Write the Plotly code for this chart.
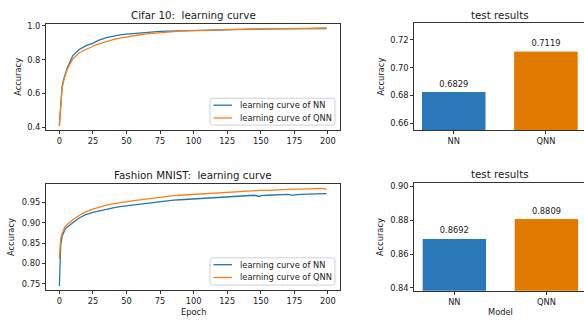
import plotly.graph_objects as go

W, H = 584, 324

epochs = [0, 1, 2, 3, 4, 5, 6, 7, 8, 9,
          10, 15, 20, 25, 30, 35, 40, 45, 50, 55, 60, 65, 70, 75, 80, 85, 90, 95,
          100, 105, 110, 115, 120, 125, 130, 135, 140, 145, 149,
          150, 155, 160, 165, 170, 174, 175, 180, 185, 190, 195, 199]

cifar_nn = [0.41, 0.57, 0.64, 0.68, 0.71, 0.735, 0.755, 0.77, 0.79, 0.805,
            0.825, 0.862, 0.884, 0.899, 0.918, 0.931, 0.941, 0.947, 0.952, 0.956,
            0.960, 0.963, 0.966, 0.968, 0.970, 0.971, 0.973, 0.974, 0.975, 0.976,
            0.977, 0.978, 0.978, 0.979, 0.980, 0.980, 0.981, 0.981, 0.982,
            0.982, 0.982, 0.983, 0.983, 0.983, 0.984, 0.984, 0.984, 0.984, 0.985, 0.985, 0.985]

cifar_qnn = [0.41, 0.56, 0.63, 0.67, 0.70, 0.725, 0.745, 0.76, 0.775, 0.79,
             0.805, 0.843, 0.864, 0.880, 0.895, 0.908, 0.919, 0.928, 0.936, 0.943,
             0.948, 0.953, 0.957, 0.961, 0.964, 0.967, 0.969, 0.971, 0.973, 0.975,
             0.976, 0.977, 0.978, 0.979, 0.980, 0.981, 0.981, 0.982, 0.982,
             0.983, 0.983, 0.984, 0.984, 0.985, 0.985, 0.986, 0.986, 0.986, 0.987, 0.987, 0.988]

fashion_nn = [0.745, 0.845, 0.866, 0.876, 0.882, 0.887, 0.890, 0.893, 0.896, 0.898,
              0.900, 0.912, 0.920, 0.925, 0.929, 0.933, 0.936, 0.939, 0.941, 0.944,
              0.946, 0.948, 0.950, 0.951, 0.953, 0.955, 0.956, 0.957, 0.958, 0.960,
              0.961, 0.962, 0.963, 0.964, 0.965, 0.966, 0.966, 0.967, 0.964,
              0.966, 0.967, 0.968, 0.968, 0.969, 0.967, 0.968, 0.969, 0.970, 0.970, 0.971, 0.971]

fashion_qnn = [0.812, 0.862, 0.873, 0.882, 0.889, 0.893, 0.896, 0.899, 0.902, 0.905,
               0.907, 0.918, 0.927, 0.933, 0.938, 0.943, 0.946, 0.949, 0.952, 0.954,
               0.956, 0.958, 0.961, 0.963, 0.964, 0.966, 0.967, 0.968, 0.970, 0.971,
               0.972, 0.973, 0.974, 0.975, 0.976, 0.977, 0.977, 0.978, 0.978,
               0.979, 0.979, 0.980, 0.980, 0.981, 0.981, 0.982, 0.982, 0.983, 0.983, 0.984, 0.982]

models = ["NN", "QNN"]
cifar_test = [0.6829, 0.7119]
fashion_test = [0.8692, 0.8809]

series_names = ["learning curve of NN", "learning curve of QNN"]

epoch_ticks = [0, 25, 50, 75, 100, 125, 150, 175, 200]
cifar_yticks = [0.4, 0.6, 0.8, 1.0]
fashion_yticks = [0.75, 0.80, 0.85, 0.90, 0.95]
cifar_bar_ticks = [0.66, 0.68, 0.70, 0.72]
fashion_bar_ticks = [0.84, 0.86, 0.88, 0.90]

BLUE = "#1f77b4"
ORANGE = "#ff7f0e"
BAR_BLUE = "#2a77ba"
BAR_ORANGE = "#e17a00"
FONT = "DejaVu Sans"
TXT = "#1a1a1a"
SPINE = "#333333"
TICK_SIZE = 8.3
TITLE_SIZE = 10.3
LINE_W = 1.3


def px_x(p):
    return p / W


def px_y(p):
    return 1 - p / H


fig = go.Figure()

# learning curves
for (xa, ya, nn, qnn) in [("x", "y", cifar_nn, cifar_qnn), ("x2", "y2", fashion_nn, fashion_qnn)]:
    fig.add_trace(go.Scatter(x=epochs, y=nn, mode="lines", name=series_names[0],
                             line=dict(color=BLUE, width=LINE_W), xaxis=xa, yaxis=ya,
                             showlegend=False))
    fig.add_trace(go.Scatter(x=epochs, y=qnn, mode="lines", name=series_names[1],
                             line=dict(color=ORANGE, width=LINE_W), xaxis=xa, yaxis=ya,
                             showlegend=False))

# bars
for (xa, ya, vals) in [("x3", "y3", cifar_test), ("x4", "y4", fashion_test)]:
    fig.add_trace(go.Bar(x=models, y=vals, width=0.7,
                         marker=dict(color=[BAR_BLUE, BAR_ORANGE], line=dict(color="white", width=1)),
                         text=[f"{v:.4f}" for v in vals], textposition="outside",
                         textfont=dict(size=TICK_SIZE, color=TXT, family=FONT), cliponaxis=False,
                         showlegend=False, xaxis=xa, yaxis=ya))

axis_common = dict(showline=True, linecolor=SPINE, linewidth=1, ticks="outside", ticklen=3,
                   tickcolor=SPINE, tickwidth=1, showgrid=False, zeroline=False,
                   tickfont=dict(size=TICK_SIZE, color=TXT, family=FONT))

left_dom = [px_x(46), px_x(340)]
right_dom = [px_x(414.3), 1.0]

fig.update_layout(
    width=W, height=H, margin=dict(l=0, r=0, t=0, b=0),
    paper_bgcolor="white", plot_bgcolor="white",
    font=dict(family=FONT, size=TICK_SIZE, color=TXT),
    showlegend=False,
    xaxis=dict(domain=left_dom, anchor="y", range=[-9.95, 208.95], tickvals=epoch_ticks,
               mirror=True, **axis_common),
    yaxis=dict(domain=[px_y(129), px_y(21)], anchor="x", range=[0.3845, 1.0136],
               tickvals=cifar_yticks, tickformat=".1f", mirror=True, **axis_common),
    xaxis2=dict(domain=left_dom, anchor="y2", range=[-9.95, 208.95], tickvals=epoch_ticks,
                mirror=True, **axis_common),
    yaxis2=dict(domain=[px_y(291.7), px_y(184)], anchor="x2", range=[0.7347, 0.9942],
                tickvals=fashion_yticks, tickformat=".2f", mirror=True, **axis_common),
    xaxis3=dict(domain=right_dom, anchor="y3", range=[-0.428, 1.413], type="category",
                mirror=True, **axis_common),
    yaxis3=dict(domain=[px_y(129), px_y(20.7)], anchor="x3", range=[0.6553, 0.7318],
                tickvals=cifar_bar_ticks, tickformat=".2f", **axis_common),
    xaxis4=dict(domain=right_dom, anchor="y4", range=[-0.435, 1.408], type="category",
                mirror=True, **axis_common),
    yaxis4=dict(domain=[px_y(292.3), px_y(183.3)], anchor="x4", range=[0.8383, 0.9016],
                tickvals=fashion_bar_ticks, tickformat=".2f", **axis_common),
)

ann = []
shapes = []


def add_text(text, x, y, size, angle=0, xanchor="center"):
    ann.append(dict(text=text, x=px_x(x), y=px_y(y), xref="paper", yref="paper",
                    xanchor=xanchor, yanchor="middle", showarrow=False, textangle=angle,
                    font=dict(size=size, color=TXT, family=FONT)))


def rounded_box(x0, y0, x1, y1, r):
    # pixel coordinates -> paper path
    def P(x, y):
        return f"{px_x(x):.5f},{px_y(y):.5f}"
    return (f"M {P(x0 + r, y0)} L {P(x1 - r, y0)} Q {P(x1, y0)} {P(x1, y0 + r)} "
            f"L {P(x1, y1 - r)} Q {P(x1, y1)} {P(x1 - r, y1)} "
            f"L {P(x0 + r, y1)} Q {P(x0, y1)} {P(x0, y1 - r)} "
            f"L {P(x0, y0 + r)} Q {P(x0, y0)} {P(x0 + r, y0)} Z")


def add_legend(top, bottom, rows):
    shapes.append(dict(type="path", xref="paper", yref="paper",
                       path=rounded_box(210, top, 335, bottom, 2.5),
                       line=dict(color="#d0d0d0", width=1), fillcolor="rgba(255,255,255,0.85)"))
    for (ry, color, name) in rows:
        shapes.append(dict(type="line", xref="paper", yref="paper",
                           x0=px_x(213.5), x1=px_x(232), y0=px_y(ry), y1=px_y(ry),
                           line=dict(color=color, width=LINE_W)))
        add_text(name, 237.5, ry, TICK_SIZE, xanchor="left")


add_legend(96.7, 124, [(103.8, BLUE, series_names[0]), (116.8, ORANGE, series_names[1])])
add_legend(258.8, 286.5, [(265.8, BLUE, series_names[0]), (278.8, ORANGE, series_names[1])])

add_text("Cifar 10:\u00a0 learning curve", 193, 12, TITLE_SIZE)
add_text("Fashion MNIST:\u00a0 learning curve", 193, 175, TITLE_SIZE)
add_text("test results", 500, 12, TITLE_SIZE)
add_text("test results", 500, 174, TITLE_SIZE)
add_text("Epoch", 193, 314, TICK_SIZE)
add_text("Model", 500, 313.7, TICK_SIZE)
add_text("Accuracy", 18, 75, TICK_SIZE, -90)
add_text("Accuracy", 11.7, 238, TICK_SIZE, -90)
add_text("Accuracy", 380.7, 75, TICK_SIZE, -90)
add_text("Accuracy", 380.7, 238, TICK_SIZE, -90)
fig.update_layout(annotations=ann, shapes=shapes)

fig.write_html("out.html")
